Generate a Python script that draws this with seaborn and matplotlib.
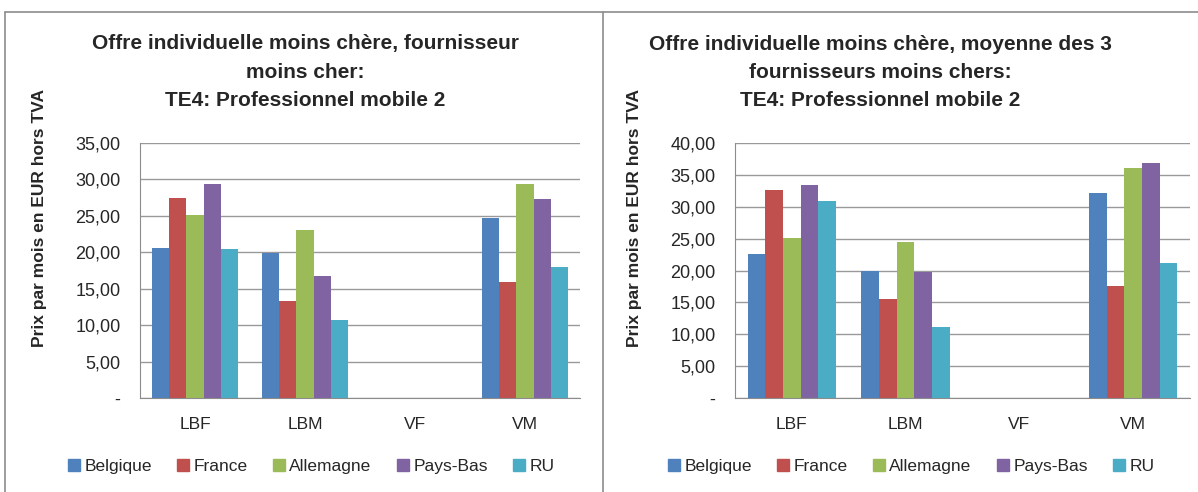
import pandas as pd
import matplotlib.pyplot as plt
import seaborn as sns
from matplotlib.lines import Line2D
from matplotlib.ticker import FuncFormatter

# Données
categories = ["LBF", "LBM", "VF", "VM"]
pays = ["Belgique", "France", "Allemagne", "Pays-Bas", "RU"]
couleurs = ["#4F81BD", "#C0504D", "#9BBB59", "#8064A2", "#4BACC6"]

# fournisseur moins cher (par pays : LBF, LBM, VF, VM)
moins_cher = {
    "Belgique": [20.6, 19.97, 0, 24.76],
    "France": [27.46, 13.3, 0, 15.9],
    "Allemagne": [25.18, 23.07, 0, 29.38],
    "Pays-Bas": [29.43, 16.77, 0, 27.28],
    "RU": [20.5, 10.74, 0, 17.96],
}
# moyenne des 3 fournisseurs moins chers
moyenne_3 = {
    "Belgique": [22.56, 19.95, 0, 32.22],
    "France": [32.69, 15.5, 0, 17.6],
    "Allemagne": [25.17, 24.44, 0, 36.08],
    "Pays-Bas": [33.42, 19.79, 0, 36.92],
    "RU": [30.91, 11.12, 0, 21.2],
}

titre_gauche = "Offre individuelle moins chère, fournisseur\nmoins cher:\nTE4: Professionnel mobile 2"
titre_droite = "Offre individuelle moins chère, moyenne des 3\nfournisseurs moins chers:\nTE4: Professionnel mobile 2"
ylabel = "Prix par mois en EUR hors TVA"


def to_long(d):
    rows = []
    for p in pays:
        for c, v in zip(categories, d[p]):
            rows.append({"cat": c, "pays": p, "prix": v})
    return pd.DataFrame(rows)


sns.set_style("white")
plt.rcParams["font.family"] = ["Liberation Sans Narrow", "Liberation Sans", "DejaVu Sans"]

W, H = 1198, 492
fig = plt.figure(figsize=(W / 100, H / 100), dpi=100)

fmt = FuncFormatter(lambda v, pos: "-" if v == 0 else f"{v:.2f}".replace(".", ","))


def draw(ax_box, data, ymax, titre, title_x, legend_x):
    x0, x1, ytop, ybot = ax_box
    ax = fig.add_axes([x0 / W, 1 - ybot / H, (x1 - x0) / W, (ybot - ytop) / H])
    df = to_long(data)
    sns.barplot(data=df, x="cat", y="prix", hue="pays", order=categories,
                hue_order=pays, palette=couleurs, width=0.78, linewidth=0,
                saturation=1, ax=ax, legend=False)
    ax.set_ylim(0, ymax)
    ax.set_xlim(-0.5, 3.5)
    ax.set_yticks(range(0, ymax + 1, 5))
    ax.yaxis.set_major_formatter(fmt)
    ax.yaxis.grid(True, color="#999999", linewidth=1)
    ax.set_axisbelow(True)
    for s in ["top", "right"]:
        ax.spines[s].set_visible(False)
    for s in ["left", "bottom"]:
        ax.spines[s].set_color("#8c8c8c")
    ax.set_xticks([-0.5, 0.5, 1.5, 2.5, 3.5])
    ax.set_xticklabels([])
    ax.set_xticks(range(4), minor=True)
    ax.set_xticklabels(categories, minor=True, fontsize=12.5)
    ax.tick_params(axis="x", which="major", length=6, color="#8c8c8c", direction="out")
    ax.tick_params(axis="x", which="minor", length=0, pad=14)
    ax.tick_params(axis="y", length=6, color="#8c8c8c", labelsize=13, pad=8,
                   direction="out")
    ax.set_xlabel("")
    ax.set_ylabel("")
    fig.text(title_x / W, 1 - 72 / H, titre, ha="center", va="center",
             fontsize=15, fontweight="bold", linespacing=1.6)
    fig.text((ax_box[0] - 100) / W, 1 - 218 / H, ylabel, rotation=90,
             ha="center", va="center", fontsize=12.5, fontweight="bold")
    handles = [Line2D([], [], marker="s", linestyle="", color=c, markersize=9) for c in couleurs]
    fig.legend(handles, pays, loc="center", bbox_to_anchor=(legend_x / W, 1 - 466 / H),
               ncol=5, frameon=False, fontsize=12.5, handletextpad=0.1,
               columnspacing=1.3, handlelength=1.0)
    return ax


draw((140, 580, 143, 398), moins_cher, 35, titre_gauche, 305, 310)
draw((735, 1190, 143, 398), moyenne_3, 40, titre_droite, 880, 910)

# cadres des deux graphiques
for xs, ys in [([5, 5], [12, H]), ([603, 603], [12, H]), ([5, W], [12, 12])]:
    fig.add_artist(Line2D([x / W for x in xs], [1 - y / H for y in ys],
                          color="#8c8c8c", linewidth=1.2))

fig.savefig("out.png", dpi=100)
